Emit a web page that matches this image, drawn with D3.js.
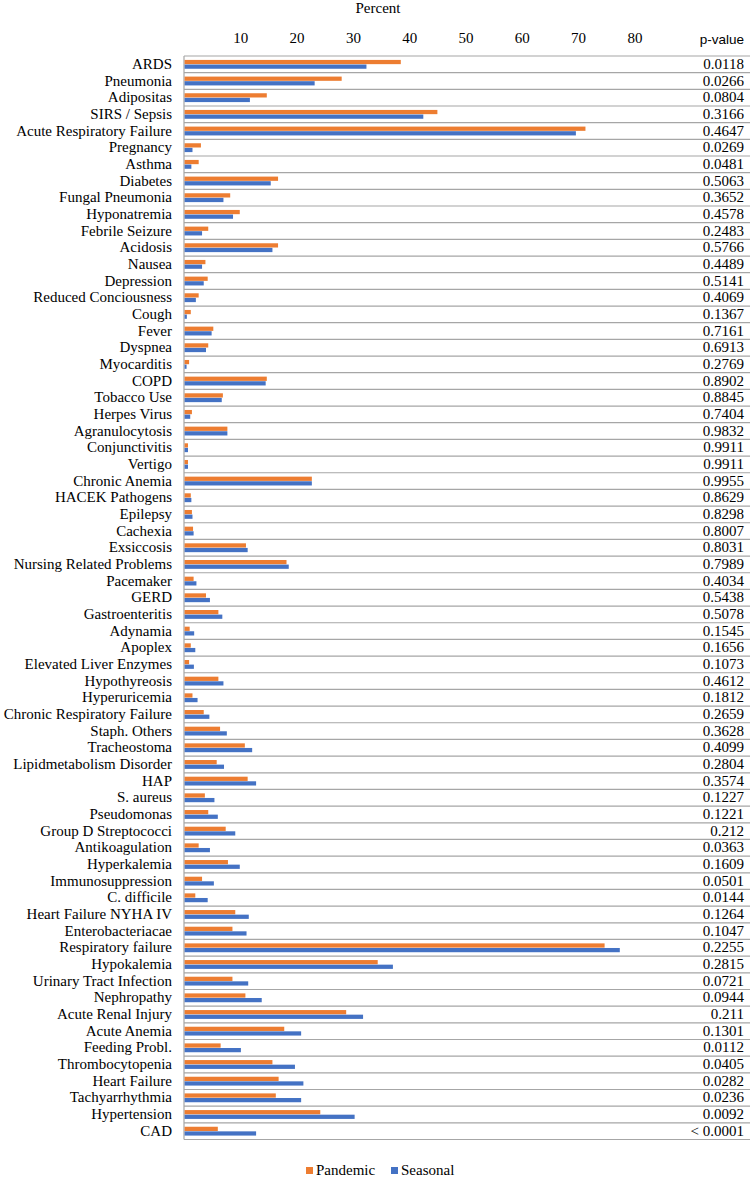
<html>
<head>
<script src="https://d3js.org/d3.v7.min.js"></script>
<style>
  body { margin: 0; background: #fff; }
</style>
</head>

<body>
  <script>
    const width = 750;
    const height = 1181;

    // data
    const categories = ["ARDS", "Pneumonia", "Adipositas", "SIRS / Sepsis", "Acute Respiratory Failure",
      "Pregnancy", "Asthma", "Diabetes", "Fungal Pneumonia", "Hyponatremia", "Febrile Seizure",
      "Acidosis", "Nausea", "Depression", "Reduced Conciousness", "Cough", "Fever", "Dyspnea",
      "Myocarditis", "COPD", "Tobacco Use", "Herpes Virus", "Agranulocytosis", "Conjunctivitis",
      "Vertigo", "Chronic Anemia", "HACEK Pathogens", "Epilepsy", "Cachexia", "Exsiccosis",
      "Nursing Related Problems", "Pacemaker", "GERD", "Gastroenteritis", "Adynamia", "Apoplex",
      "Elevated Liver Enzymes", "Hypothyreosis", "Hyperuricemia", "Chronic Respiratory Failure",
      "Staph. Others", "Tracheostoma", "Lipidmetabolism Disorder", "HAP", "S. aureus", "Pseudomonas",
      "Group D Streptococci", "Antikoagulation", "Hyperkalemia", "Immunosuppression", "C. difficile",
      "Heart Failure NYHA IV", "Enterobacteriacae", "Respiratory failure", "Hypokalemia",
      "Urinary Tract Infection", "Nephropathy", "Acute Renal Injury", "Acute Anemia", "Feeding Probl.",
      "Thrombocytopenia", "Heart Failure", "Tachyarrhythmia", "Hypertension", "CAD"];

    const pandemic = [38.4, 27.9, 14.6, 44.9, 71.2, 2.9, 2.5, 16.6, 8.1, 9.8, 4.2, 16.6, 3.7, 4.1, 2.5,
      1.1, 5.1, 4.2, 0.8, 14.6, 6.8, 1.3, 7.6, 0.6, 0.6, 22.6, 1.1, 1.3, 1.5, 10.9, 18.1, 1.6, 3.8, 6.0,
      0.9, 1.1, 0.8, 6.0, 1.4, 3.4, 6.3, 10.7, 5.7, 11.2, 3.6, 4.2, 7.3, 2.5, 7.7, 3.1, 1.9, 9.0, 8.5,
      74.6, 34.3, 8.5, 10.8, 28.7, 17.7, 6.4, 15.6, 16.7, 16.2, 24.1, 5.9];

    const seasonal = [32.3, 23.1, 11.6, 42.4, 69.5, 1.4, 1.2, 15.3, 6.9, 8.6, 3.1, 15.6, 3.1, 3.4, 2.0,
      0.4, 4.8, 3.8, 0.35, 14.4, 6.6, 1.0, 7.6, 0.6, 0.6, 22.6, 1.2, 1.4, 1.6, 11.2, 18.5, 2.1, 4.5, 6.7,
      1.7, 1.9, 1.65, 6.9, 2.3, 4.4, 7.5, 12.0, 7.0, 12.7, 5.3, 5.9, 9.0, 4.5, 9.8, 5.2, 4.1, 11.4, 11.0,
      77.3, 37.0, 11.3, 13.7, 31.7, 20.7, 10.0, 19.6, 21.1, 20.7, 30.2, 12.7];

    const pValues = ["0.0118", "0.0266", "0.0804", "0.3166", "0.4647", "0.0269", "0.0481", "0.5063",
      "0.3652", "0.4578", "0.2483", "0.5766", "0.4489", "0.5141", "0.4069", "0.1367", "0.7161", "0.6913",
      "0.2769", "0.8902", "0.8845", "0.7404", "0.9832", "0.9911", "0.9911", "0.9955", "0.8629", "0.8298",
      "0.8007", "0.8031", "0.7989", "0.4034", "0.5438", "0.5078", "0.1545", "0.1656", "0.1073", "0.4612",
      "0.1812", "0.2659", "0.3628", "0.4099", "0.2804", "0.3574", "0.1227", "0.1221", "0.212", "0.0363",
      "0.1609", "0.0501", "0.0144", "0.1264", "0.1047", "0.2255", "0.2815", "0.0721", "0.0944", "0.211",
      "0.1301", "0.0112", "0.0405", "0.0282", "0.0236", "0.0092", "< 0.0001"];

    const series = ["Pandemic", "Seasonal"];
    const colors = ["#ED7D31", "#4472C4"];
    const tickVals = [10, 20, 30, 40, 50, 60, 70, 80];

    const serif = "'Liberation Serif', 'Times New Roman', serif";
    const sans = "'Liberation Sans', Arial, sans-serif";

    const plotLeft = 184;
    const plotTop = 56;
    const plotBottom = 1139.5;

    // adding svg
    const svg = d3.select("body")
              .append("svg")
              .attr("width", width)
              .attr("height", height);

    // scales
    const x = d3.scaleLinear().domain([0, 80]).range([plotLeft, 634.4]);
    const y = d3.scaleBand().domain(categories).range([plotTop, plotBottom]).padding(0);
    const ySub = d3.scaleBand().domain(series).range([0, y.bandwidth()]).paddingInner(0.08).paddingOuter(0.85);

    // row lines
    const rowEdges = categories.map(c => y(c)).concat([plotBottom]);
    svg.append("g")
      .selectAll("line")
      .data(rowEdges)
      .join("line")
      .attr("x1", plotLeft)
      .attr("x2", width)
      .attr("y1", d => d)
      .attr("y2", d => d)
      .attr("stroke", "#a6a6a6")
      .attr("stroke-width", 1.2);

    // left axis line
    svg.append("line")
      .attr("x1", plotLeft)
      .attr("x2", plotLeft)
      .attr("y1", plotTop)
      .attr("y2", plotBottom)
      .attr("stroke", "#a6a6a6")
      .attr("stroke-width", 1.2);

    // adding bars
    const rows = svg.append("g")
      .selectAll("g")
      .data(categories.map((c, i) => ({ cat: c, vals: [pandemic[i], seasonal[i]] })))
      .join("g")
      .attr("transform", d => `translate(0,${y(d.cat)})`);

    rows.selectAll("rect")
      .data(d => d.vals.map((v, j) => ({ key: series[j], v: v, c: colors[j] })))
      .join("rect")
      .attr("x", x(0) + 0.6)
      .attr("y", d => ySub(d.key))
      .attr("width", d => x(d.v) - x(0))
      .attr("height", ySub.bandwidth())
      .attr("fill", d => d.c);

    // category labels
    svg.append("g")
      .selectAll("text")
      .data(categories)
      .join("text")
      .attr("x", 172)
      .attr("y", d => y(d) + 13)
      .attr("text-anchor", "end")
      .style("font-family", serif)
      .style("font-size", "15px")
      .attr("fill", "#000")
      .text(d => d);

    // p-values
    svg.append("g")
      .selectAll("text")
      .data(pValues)
      .join("text")
      .attr("x", 744)
      .attr("y", (d, i) => y(categories[i]) + 13)
      .attr("text-anchor", "end")
      .style("font-family", serif)
      .style("font-size", "15px")
      .attr("fill", "#000")
      .text(d => d);

    svg.append("text")
      .attr("x", 744)
      .attr("y", 44)
      .attr("text-anchor", "end")
      .style("font-family", sans)
      .style("font-size", "13.5px")
      .text("p-value");

    // top axis
    const axis = svg.append("g")
      .attr("transform", "translate(0,38)")
      .call(d3.axisTop(x).tickValues(tickVals).tickSize(0).tickPadding(-5));
    axis.select(".domain").remove();
    axis.selectAll("text")
      .style("font-family", serif)
      .style("font-size", "15px")
      .attr("fill", "#000");

    // axis title
    svg.append("text")
      .attr("x", 378)
      .attr("y", 13)
      .attr("text-anchor", "middle")
      .style("font-family", serif)
      .style("font-size", "15px")
      .text("Percent");

    // legend
    const legend = svg.append("g")
      .selectAll("g")
      .data(series)
      .join("g")
      .attr("transform", (d, i) => `translate(${[306, 391][i]},1166)`);

    legend.append("rect")
      .attr("width", 7)
      .attr("height", 7)
      .attr("y", 1)
      .attr("fill", (d, i) => colors[i]);

    legend.append("text")
      .attr("x", 10)
      .attr("y", 9)
      .style("font-family", serif)
      .style("font-size", "15px")
      .text(d => d);
  </script>
</body>
</html>
